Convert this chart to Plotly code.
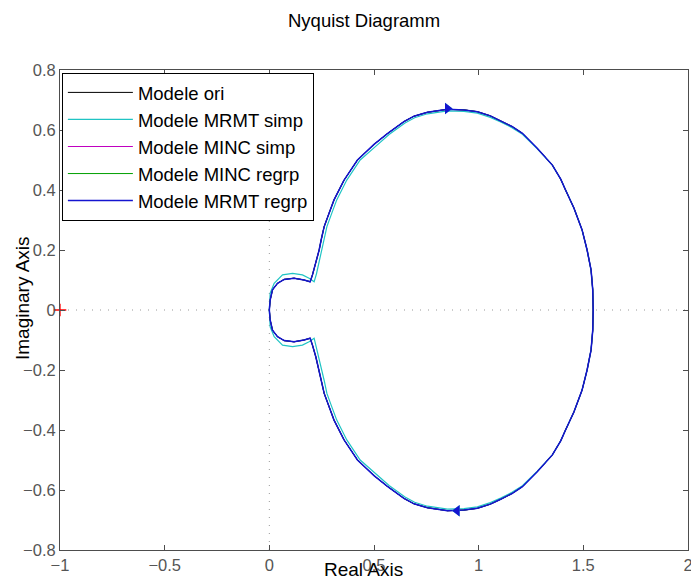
import plotly.graph_objects as go

# Upper branch of the frequency response (omega from 0 to +inf), as (Re, Im)
ori_re = [1.547, 1.545, 1.537, 1.518, 1.494, 1.455, 1.415, 1.392, 1.352, 1.280, 1.209,
          1.161, 1.105, 1.056, 0.994, 0.930, 0.851, 0.755, 0.691, 0.643, 0.564, 0.532,
          0.50, 0.421, 0.357, 0.309, 0.285, 0.262, 0.248, 0.238, 0.222, 0.206, 0.195,
          0.166, 0.118, 0.071, 0.039, 0.015, 0.004, 0.0]
ori_im = [0.0, 0.067, 0.133, 0.2, 0.267, 0.34, 0.40, 0.436, 0.483, 0.539, 0.589,
          0.611, 0.631, 0.647, 0.661, 0.667, 0.669, 0.659, 0.646, 0.628, 0.588, 0.570,
          0.552, 0.5, 0.433, 0.367, 0.322, 0.278, 0.235, 0.2, 0.156, 0.117, 0.094,
          0.1, 0.106, 0.102, 0.089, 0.067, 0.033, 0.0]

mrmt_simp_re = [1.547, 1.545, 1.537, 1.518, 1.494, 1.455, 1.415, 1.392, 1.352, 1.280, 1.209,
                1.161, 1.105, 1.056, 0.994, 0.930, 0.851, 0.755, 0.694, 0.648, 0.572, 0.542,
                0.512, 0.434, 0.370, 0.322, 0.298, 0.275, 0.262, 0.250, 0.236, 0.225, 0.214,
                0.19, 0.158, 0.111, 0.063, 0.023, 0.004, 0.0]
mrmt_simp_im = [0.0, 0.067, 0.133, 0.2, 0.267, 0.34, 0.40, 0.436, 0.483, 0.537, 0.586,
                0.607, 0.627, 0.642, 0.656, 0.662, 0.664, 0.654, 0.641, 0.623, 0.585, 0.567,
                0.548, 0.5, 0.433, 0.367, 0.322, 0.278, 0.235, 0.2, 0.156, 0.12, 0.094,
                0.106, 0.117, 0.122, 0.117, 0.089, 0.056, 0.0]

# Direction arrows (upper branch pointing right, lower branch pointing left)
arrow_up = (0.851, 0.672)
arrow_dn = (0.897, -0.669)

series = [
    ("Modele ori", ori_re, ori_im, "#000000", 1.0),
    ("Modele MRMT simp", mrmt_simp_re, mrmt_simp_im, "#20c4c4", 1.2),
    ("Modele MINC simp", ori_re, ori_im, "#c000c0", 1.0),
    ("Modele MINC regrp", ori_re, ori_im, "#00a000", 1.0),
    ("Modele MRMT regrp", ori_re, ori_im, "#1414d0", 1.5),
]


def full_contour(re, im):
    # negative frequencies are the complex conjugate of the positive ones
    xs = list(reversed(re)) + re[1:]
    ys = list(reversed(im)) + [-v for v in im[1:]]
    return xs, ys


fig = go.Figure()
for i, (name, re, im, color, w) in enumerate(series):
    xs, ys = full_contour(re, im)
    fig.add_trace(go.Scatter(x=xs, y=ys, mode="lines", name=name, legendgroup=f"g{i}",
                             line=dict(color=color, width=w)))

for color in ["#20c4c4", "#1414d0"]:
    fig.add_trace(go.Scatter(x=[arrow_up[0]], y=[arrow_up[1]], mode="markers",
                             marker=dict(symbol="triangle-right", size=10, color=color),
                             showlegend=False, hoverinfo="skip"))
    fig.add_trace(go.Scatter(x=[arrow_dn[0]], y=[arrow_dn[1]], mode="markers",
                             marker=dict(symbol="triangle-left", size=10, color=color),
                             showlegend=False, hoverinfo="skip"))

# Critical point -1 + 0j
fig.add_trace(go.Scatter(x=[-1], y=[0], mode="markers", showlegend=False,
                         marker=dict(symbol="cross-thin", size=9,
                                     line=dict(color="red", width=1.3)),
                         cliponaxis=False, hoverinfo="skip"))

axis_common = dict(showgrid=False, zeroline=False, showline=True, mirror="ticks",
                   linecolor="#4d4d4d", linewidth=1, ticks="inside", ticklen=5,
                   tickcolor="#4d4d4d", tickfont=dict(size=16.5, color="#555555"),
                   ticklabeloverflow="allow", automargin=False)

fig.update_layout(
    width=691, height=577,
    margin=dict(l=60, r=3, t=70, b=27),
    paper_bgcolor="white", plot_bgcolor="white",
    font=dict(family="Liberation Sans, Arial, sans-serif", color="black"),
    xaxis=dict(range=[-1, 2], tickvals=[-1, -0.5, 0, 0.5, 1, 1.5, 2],
               ticktext=["\u22121", "\u22120.5", "0", "0.5", "1", "1.5", "2"], **axis_common),
    yaxis=dict(range=[-0.8, 0.8], tickvals=[-0.8, -0.6, -0.4, -0.2, 0, 0.2, 0.4, 0.6, 0.8],
               ticktext=["\u22120.8", "\u22120.6", "\u22120.4", "\u22120.2", "0",
                         "0.2", "0.4", "0.6", "0.8"], **axis_common),
    legend=dict(x=0.003, y=0.994, xanchor="left", yanchor="top", bgcolor="white",
                bordercolor="black", borderwidth=1, font=dict(size=18.5, color="black"),
                tracegroupgap=0, itemwidth=65),
    showlegend=True,
    shapes=[
        dict(type="line", xref="x", yref="y", x0=-1, x1=2, y0=0, y1=0,
             line=dict(color="#999999", width=1, dash="1px,7px"), layer="below"),
        dict(type="line", xref="x", yref="y", x0=0, x1=0, y0=-0.8, y1=0.8,
             line=dict(color="#999999", width=1, dash="1px,7px"), layer="below"),
    ],
    annotations=[
        dict(text="Nyquist Diagramm", xref="paper", yref="paper", x=0.5, y=1,
             yshift=50, xshift=-10, showarrow=False, font=dict(size=18.5, color="black"),
             xanchor="center", yanchor="middle"),
        dict(text="Real Axis", xref="paper", yref="paper", x=0.5, y=0, yshift=-19,
             xshift=-11, showarrow=False, font=dict(size=19, color="black"),
             xanchor="center", yanchor="middle"),
        dict(text="Imaginary Axis", xref="paper", yref="paper", x=0, y=0.5, xshift=-38,
             yshift=12, textangle=-90, showarrow=False, font=dict(size=19, color="black"),
             xanchor="center", yanchor="middle"),
    ],
)

fig.write_html("out.html")
